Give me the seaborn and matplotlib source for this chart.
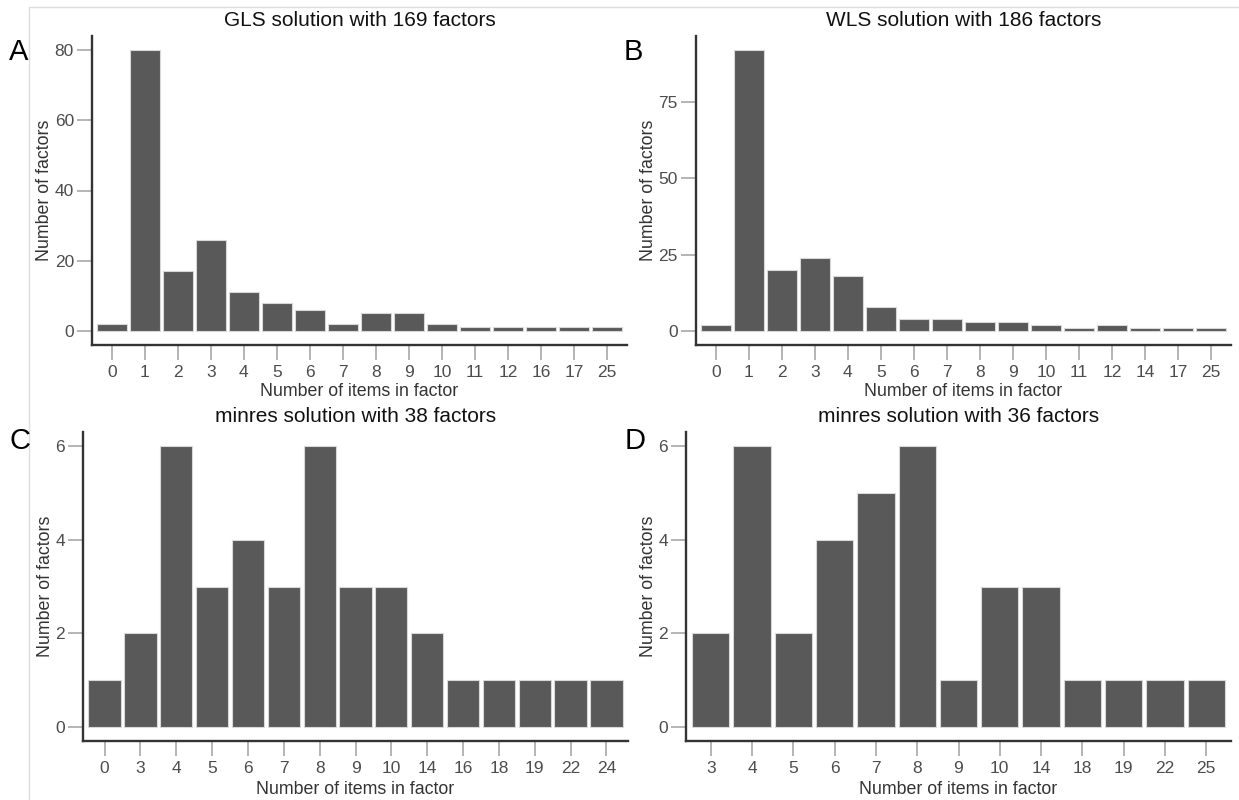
import matplotlib
matplotlib.use("Agg")
import matplotlib.pyplot as plt
from matplotlib.lines import Line2D
import seaborn as sns
import pandas as pd

# Factor-size distributions for four factor-analysis solutions
gls_sizes = ["0", "1", "2", "3", "4", "5", "6", "7", "8", "9", "10", "11", "12", "16", "17", "25"]
gls_counts = [2, 80, 17, 26, 11, 8, 6, 2, 5, 5, 2, 1, 1, 1, 1, 1]

wls_sizes = ["0", "1", "2", "3", "4", "5", "6", "7", "8", "9", "10", "11", "12", "14", "17", "25"]
wls_counts = [2, 92, 20, 24, 18, 8, 4, 4, 3, 3, 2, 1, 2, 1, 1, 1]

minres38_sizes = ["0", "3", "4", "5", "6", "7", "8", "9", "10", "14", "16", "18", "19", "22", "24"]
minres38_counts = [1, 2, 6, 3, 4, 3, 6, 3, 3, 2, 1, 1, 1, 1, 1]

minres36_sizes = ["3", "4", "5", "6", "7", "8", "9", "10", "14", "18", "19", "22", "25"]
minres36_counts = [2, 6, 2, 4, 5, 6, 1, 3, 3, 1, 1, 1, 1]

titles = ["GLS solution with 169 factors", "WLS solution with 186 factors",
          "minres solution with 38 factors", "minres solution with 36 factors"]
panel_letters = ["A", "B", "C", "D"]
y_ticks = [[0, 20, 40, 60, 80], [0, 25, 50, 75], [0, 2, 4, 6], [0, 2, 4, 6]]

sns.set_theme(style="white")
plt.rcParams["font.family"] = ["Liberation Sans", "DejaVu Sans"]

W, H = 1239, 800
fig = plt.figure(figsize=(W / 100, H / 100), dpi=100)

# panel boxes in pixels: left, right, top, bottom
boxes = [(92, 627, 36, 345), (696, 1231, 36, 345),
         (83, 628, 432, 741), (686, 1231, 432, 741)]
title_y = [21, 21, 417, 417]
xlabel_y = [392, 392, 789, 789]
letter_pos = [(19, 52), (633, 52), (20, 441), (635, 441)]

panels = [(gls_sizes, gls_counts), (wls_sizes, wls_counts),
          (minres38_sizes, minres38_counts), (minres36_sizes, minres36_counts)]

bar_color = "#595959"
for i, ((sizes, counts), (l, r, t, b)) in enumerate(zip(panels, boxes)):
    ax = fig.add_axes([l / W, 1 - b / H, (r - l) / W, (b - t) / H])
    df = pd.DataFrame({"size": sizes, "count": counts})
    sns.barplot(data=df, x="size", y="count", order=sizes, color=bar_color,
                saturation=1, width=0.9, edgecolor="#d8d8d8", linewidth=0.8, ax=ax)
    ymax = max(counts)
    ax.set_ylim(-0.05 * ymax, 1.05 * ymax)
    ax.set_xlim(-0.6, len(sizes) - 1 + 0.6)
    ax.set_yticks(y_ticks[i])
    hpx = b - t
    ax.set_xlabel("Number of items in factor", fontsize=12.8, color="#333333")
    ax.xaxis.set_label_coords(0.5, -(xlabel_y[i] - b) / hpx)
    ax.xaxis.label.set_va("center")
    ax.set_ylabel("Number of factors", fontsize=12.8, color="#333333", labelpad=1)
    ax.set_title(titles[i], fontsize=15, color="#111111", pad=0,
                 y=1 + (t - title_y[i]) / hpx, va="center")
    sns.despine(ax=ax)
    for side in ("left", "bottom"):
        ax.spines[side].set_color("#333333")
        ax.spines[side].set_linewidth(1.7)
    ax.tick_params(axis="both", length=11, width=1.1, color="#a0a0a0",
                   labelcolor="#4d4d4d", labelsize=12.5, direction="out")
    ax.tick_params(axis="x", bottom=True, pad=3.5)
    ax.tick_params(axis="y", left=True, pad=2)
    ax.patch.set_alpha(0)
    fig.text(letter_pos[i][0] / W, 1 - letter_pos[i][1] / H, panel_letters[i],
             fontsize=21, color="#000000", ha="center", va="center")

# thin frame along the top and left of the figure
fig.add_artist(Line2D([29 / W, 1], [1 - 7 / H, 1 - 7 / H], color="#dddddd", lw=1))
fig.add_artist(Line2D([29 / W, 29 / W], [0, 1 - 7 / H], color="#dddddd", lw=1))

fig.savefig("out.png", dpi=100)
